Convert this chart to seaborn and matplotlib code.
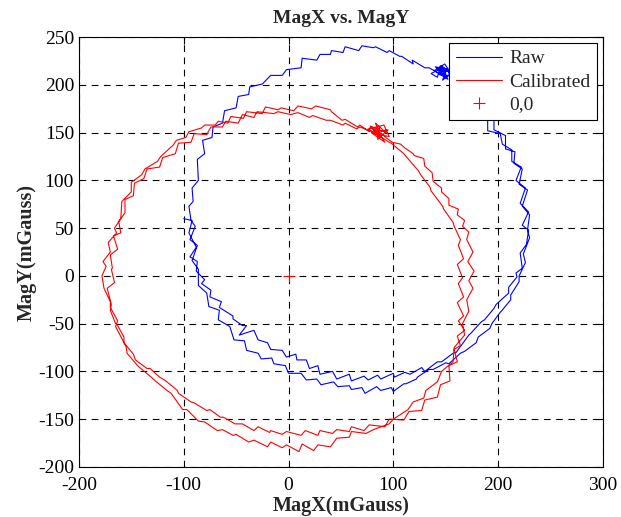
import numpy as np
import pandas as pd
import seaborn as sns
import matplotlib
matplotlib.use('Agg')
import matplotlib.pyplot as plt

# Raw magnetometer trace (two laps)
raw_x = [-100, -92, -95, -88, -94, -87, -88, -80, -83, -74, -75, -64, -66, -53, -53, -44, -40, -47, -33, -29,
         -20, -17, -6, -2, 7, 8, 17, 20, 28, 30, 42, 46, 58, 60, 72, 76, 85, 88, 100, 101,
         111, 116, 127, 130, 142, 146, 157, 160, 172, 174, 184, 187, 196, 198, 210, 210, 218, 217, 223, 221,
         227, 229, 223, 229, 221, 226, 217, 222, 213, 213, 204, 202, 190, 190, 180, 180, 168, 162, 148, 147,
         136, 142, 145, 144, 134, 130, 118, 119, 108, 106, 96, 94, 83, 81, 70, 67, 54, 52, 41, 40,
         30, 27, 13, 12, -2, -6, -17, -25, -37, -38, -48, -50, -61, -63, -72, -73, -82, -80, -87, -86,
         -92, -91, -95, -93, -89, -94, -87, -92, -86, -86, -78, -76, -66, -67, -56, -52, -42, -40, -29, -26,
         -16, -14, -3, 0, 12, 17, 27, 31, 43, 47, 58, 60, 70, 73, 84, 88, 98, 100, 110, 112,
         122, 123, 134, 138, 150, 153, 164, 168, 179, 181, 192, 194, 202, 203, 212, 212, 220, 220, 226, 224,
         230, 228, 230, 223, 228, 220, 223, 215, 216, 207, 207, 196, 196, 186, 182, 170, 164, 153, 152, 144]
raw_y = [60, 58, 45, 30, 20, 15, 5, -4, -8, -15, -22, -27, -33, -42, -45, -52, -52, -62, -57, -67,
         -70, -77, -78, -85, -82, -88, -88, -97, -94, -103, -100, -108, -103, -110, -105, -109, -104, -108, -102, -106,
         -101, -103, -96, -100, -90, -90, -81, -80, -62, -60, -48, -46, -34, -30, -18, -12, -1, 3, 8, 24,
         33, 48, 53, 67, 76, 92, 100, 114, 120, 132, 138, 149, 152, 164, 173, 192, 198, 210, 210, 218,
         212, 208, 220, 212, 218, 218, 226, 222, 230, 230, 236, 234, 240, 239, 241, 236, 240, 234, 236, 232,
         232, 226, 228, 218, 216, 210, 210, 201, 198, 190, 188, 176, 173, 160, 156, 145, 142, 128, 122, 100,
         92, 78, 73, 58, 52, 38, 32, 16, 7, -10, -18, -32, -36, -46, -53, -67, -68, -78, -81, -87,
         -86, -92, -94, -102, -102, -109, -108, -114, -111, -116, -115, -119, -117, -123, -116, -120, -117, -121, -113, -113,
         -108, -106, -98, -98, -91, -92, -81, -79, -70, -64, -55, -50, -38, -37, -25, -20, -6, 0, 14, 23,
         40, 48, 64, 73, 90, 96, 112, 118, 130, 133, 147, 153, 167, 178, 197, 203, 212, 212, 216, 214]

# Raw data cluster where the sensor sat still
raw_still_x = [144, 150, 141, 155, 146, 152, 139, 149, 157, 143, 151, 147, 158, 140, 150]
raw_still_y = [214, 208, 218, 213, 220, 206, 215, 222, 209, 211, 217, 205, 215, 219, 212]

# Calibrated trace (two laps)
cal_x = [88, 94, 99, 107, 111, 119, 120, 129, 130, 137, 138, 146, 146, 153, 153, 162, 161, 168, 166, 172,
         170, 176, 171, 177, 172, 176, 170, 172, 166, 168, 158, 157, 146, 142, 131, 129, 119, 114, 100, 96,
         81, 74, 60, 58, 46, 40, 28, 24, 13, 10, -2, -6, -17, -20, -33, -38, -50, -53, -63, -68,
         -80, -86, -97, -101, -112, -116, -127, -131, -142, -144, -154, -155, -165, -163, -170, -170, -176, -178, -174, -177,
         -170, -172, -164, -166, -160, -159, -150, -150, -140, -137, -125, -122, -110, -107, -98, -95, -83, -80, -70, -67,
         -58, -55, -43, -40, -25, -22, -10, -7, 5, 9, 22, 26, 40, 41, 51, 54, 66, 68, 77, 78,
         86, 86, 96, 98, 110, 113, 124, 126, 135, 136, 147, 148, 157, 158, 164, 162, 167, 161, 166, 162,
         167, 161, 167, 162, 168, 161, 164, 158, 161, 153, 154, 145, 142, 130, 127, 115, 110, 96, 92, 77,
         72, 60, 58, 46, 42, 30, 28, 16, 12, -2, -6, -17, -18, -29, -33, -44, -51, -62, -65, -75,
         -78, -90, -93, -105, -106, -117, -123, -132, -135, -146, -148, -157, -157, -164, -165, -170, -169, -173, -166, -169,
         -168, -170, -163, -167, -160, -162, -156, -156, -148, -147, -138, -135, -123, -120, -108, -105, -93, -90, -78, -74,
         -63, -60, -48, -44, -33, -30, -14, -10, 2, 9, 20, 23, 36, 40, 52, 54, 65, 68, 80, 82]
cal_y = [150, 144, 140, 138, 134, 128, 126, 123, 115, 108, 99, 92, 88, 81, 74, 70, 64, 58, 52, 46,
         38, 25, 15, 5, -5, -13, -25, -37, -50, -62, -75, -90, -100, -111, -120, -128, -132, -140, -150, -155,
         -161, -165, -163, -169, -170, -179, -177, -183, -176, -184, -177, -180, -174, -179, -172, -174, -166, -167, -161, -162,
         -153, -152, -140, -140, -123, -120, -110, -106, -96, -94, -81, -74, -53, -47, -33, -27, -13, 0, 10, 15,
         25, 35, 45, 50, 60, 78, 88, 98, 106, 112, 120, 125, 137, 142, 145, 151, 155, 158, 158, 162,
         160, 167, 165, 172, 170, 177, 174, 176, 173, 178, 175, 178, 174, 172, 163, 164, 156, 158, 151, 156,
         148, 147, 140, 139, 128, 124, 110, 106, 93, 89, 73, 70, 56, 52, 38, 32, 18, 12, -2, -8,
         -22, -28, -42, -47, -57, -63, -73, -77, -90, -94, -110, -114, -127, -130, -141, -142, -151, -150, -158, -156,
         -162, -158, -163, -161, -165, -162, -167, -162, -167, -163, -166, -162, -164, -158, -162, -155, -155, -148, -148, -140,
         -141, -133, -132, -123, -120, -110, -106, -97, -97, -88, -82, -70, -64, -50, -50, -36, -30, -13, -7, 7,
         8, 22, 28, 42, 45, 57, 66, 80, 84, 97, 102, 112, 114, 124, 128, 139, 140, 149, 148, 156,
         156, 162, 160, 169, 166, 172, 170, 172, 169, 171, 166, 168, 163, 163, 158, 160, 154, 156, 151, 153]

# Calibrated data cluster where the sensor sat still
cal_still_x = [84, 90, 78, 93, 83, 88, 76, 91, 96, 81, 87, 85, 95, 79, 92, 86]
cal_still_y = [152, 147, 157, 150, 160, 145, 154, 158, 146, 149, 156, 143, 153, 150, 140, 150]

origin_x = [0]
origin_y = [0]

raw = pd.DataFrame({'x': raw_x + raw_still_x, 'y': raw_y + raw_still_y})
cal = pd.DataFrame({'x': cal_x + cal_still_x, 'y': cal_y + cal_still_y})

sns.set_style('white')
plt.rcParams['font.family'] = ['Liberation Serif', 'DejaVu Serif']
plt.rcParams['axes.unicode_minus'] = False

fig = plt.figure(figsize=(6.21, 5.17), dpi=100)
ax = fig.add_axes([0.127, 0.097, 0.844, 0.831])

sns.lineplot(data=raw, x='x', y='y', sort=False, estimator=None, color='blue',
             linewidth=0.8, label='Raw', ax=ax)
sns.lineplot(data=cal, x='x', y='y', sort=False, estimator=None, color='red',
             linewidth=0.8, label='Calibrated', ax=ax)
ax.plot(origin_x, origin_y, linestyle='none', marker='+', color='red',
        markersize=8, markeredgewidth=0.8, label='0,0')

ax.set_xlim(-200, 300)
ax.set_ylim(-200, 250)
ax.set_xticks(np.arange(-200, 301, 100))
ax.set_yticks(np.arange(-200, 251, 50))
ax.grid(True, color='black', linestyle=(0, (6, 5)), linewidth=0.8)
ax.tick_params(direction='in', top=True, right=True, length=5, width=0.8,
               labelsize=14, colors='black')
ax.tick_params(axis='x', pad=7)
for s in ax.spines.values():
    s.set_visible(True)
    s.set_color('black')
    s.set_linewidth(0.8)

ax.set_title('MagX vs. MagY', fontsize=14, fontweight='bold', pad=10)
ax.set_xlabel('MagX(mGauss)', fontsize=14.5, fontweight='bold', labelpad=2)
ax.set_ylabel('MagY(mGauss)', fontsize=14.5, fontweight='bold', labelpad=1)

leg = ax.legend(loc='upper right', fontsize=14, frameon=True, fancybox=False,
                edgecolor='black', framealpha=1, borderaxespad=0.3,
                handlelength=2.4, handletextpad=0.35, labelspacing=0.28, borderpad=0.35)
leg.get_frame().set_linewidth(0.8)

fig.savefig('out.png', dpi=100)
